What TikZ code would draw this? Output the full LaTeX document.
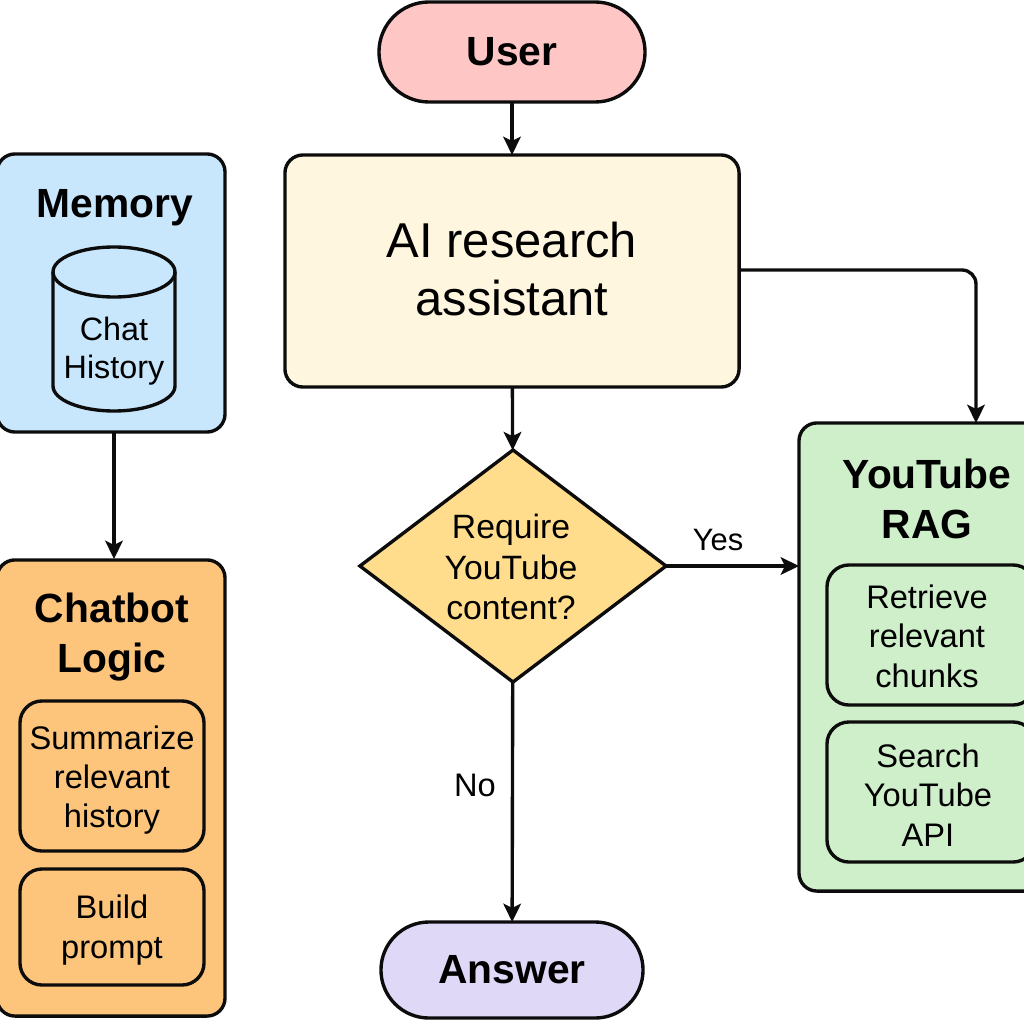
\documentclass[tikz,border=0pt]{standalone}
\usepackage{fontspec}
\setmainfont{Liberation Sans}
\usetikzlibrary{shapes.geometric,arrows.meta,positioning}
\definecolor{cuser}{HTML}{FFC6C6}
\definecolor{cai}{HTML}{FFF6DF}
\definecolor{cmem}{HTML}{C9E7FC}
\definecolor{cchat}{HTML}{FDC57C}
\definecolor{cyt}{HTML}{CFEFCB}
\definecolor{cdec}{HTML}{FFDD8C}
\definecolor{cans}{HTML}{E0D8F7}
\definecolor{cline}{HTML}{0C0C0C}
\tikzset{
  x=0.025cm,y=-0.025cm,
  every node/.style={text=black,align=center,inner sep=0pt,outer sep=0pt},
  ln/.style={draw=cline,line width=2.4pt},
  box/.style={ln,rounded corners=0.45cm,anchor=center},
  inner/.style={ln,rounded corners=0.55cm,anchor=center},
  arr/.style={draw=cline,line width=2.4pt,-{Stealth[length=13pt,width=12.5pt,inset=3pt]}},
  big/.style={font=\fontsize{29}{36}\selectfont\bfseries},
  mid/.style={font=\fontsize{34.8}{41.5}\selectfont},
  small/.style={font=\fontsize{23.2}{28}\selectfont},
}
\begin{document}
\begin{tikzpicture}
\useasboundingbox (0,0) rectangle (1024,1024);
% pills
\node[ln,fill=cuser,minimum width=6.65cm,minimum height=2.5cm,rounded corners=1.25cm,big] (user) at (512,52) {User};
\node[box,fill=cai,minimum width=11.35cm,minimum height=5.8cm,mid] (ai) at (512,271) {};
\node[mid] (ait) at (512,269) {AI research\\assistant};
\node[box,fill=cmem,minimum width=5.7cm,minimum height=6.95cm] (mem) at (111,293) {};
\node[big] (memt) at (115,208) {Memory};
% cylinder
\path[ln,fill=cmem] (53,272) -- (53,386) arc[start angle=180,end angle=0,x radius=61,y radius=25] -- (175,272) arc[start angle=0,end angle=-180,x radius=61,y radius=25] -- cycle;
\draw[ln] (53,272) arc[start angle=180,end angle=0,x radius=61,y radius=25];
\node[font=\fontsize{23}{27}\selectfont] (dbt) at (114,351) {Chat\\History};
\node[box,fill=cchat,minimum width=5.7cm,minimum height=11.4cm] (chat) at (111,788) {};
\node[big] (chatt) at (112,637) {Chatbot\\Logic};
\node[inner,fill=cchat,minimum width=4.6cm,minimum height=3.75cm] (sum) at (112,776) {};
\node[small] (sumt) at (112,780) {Summarize\\relevant\\history};
\node[inner,fill=cchat,minimum width=4.6cm,minimum height=2.9cm] (build) at (112,927) {};
\node[small] (buildt) at (112,930) {Build\\prompt};
\node[box,fill=cyt,minimum width=6.3cm,minimum height=11.7cm] (yt) at (925,657) {};
\node[big] (ytt) at (927,499) {YouTube\\RAG};
\node[inner,fill=cyt,minimum width=5.2cm,minimum height=3.5cm] (ret) at (931,635) {};
\node[small] (rett) at (927,636) {Retrieve\\relevant\\chunks};
\node[inner,fill=cyt,minimum width=5.2cm,minimum height=3.5cm] (search) at (931,792) {};
\node[small] (searcht) at (928,795) {Search\\YouTube\\API};
\node[ln,fill=cdec,diamond,minimum width=7.65cm,minimum height=5.8cm] (dec) at (513,566) {};
\node[font=\fontsize{24}{28.5}\selectfont] (dect) at (511,567) {Require\\YouTube\\content?};
\node[ln,fill=cans,minimum width=6.55cm,minimum height=2.4cm,rounded corners=1.2cm,big] (ans) at (512,970) {Answer};
% connectors
\draw[arr] (user) -- (ai);
\draw[arr] (ai) -- (dec);
\draw[arr] (dec) -- (ans);
\node[small] (nol) at (475,785) {No};
\draw[arr] (dec) -- (yt.west|-dec);
\node[font=\fontsize{22}{26}\selectfont] (yesl) at (718,540) {Yes};
\coordinate (turn) at (976,270);
\coordinate (ytin) at (976,423);
\draw[arr,rounded corners=0.35cm] (ai.east|-turn) -- (turn) -- (ytin);
\coordinate (memout) at (114,432);
\coordinate (chatin) at (114,559);
\draw[arr] (memout) -- (chatin);
\end{tikzpicture}
\end{document}
